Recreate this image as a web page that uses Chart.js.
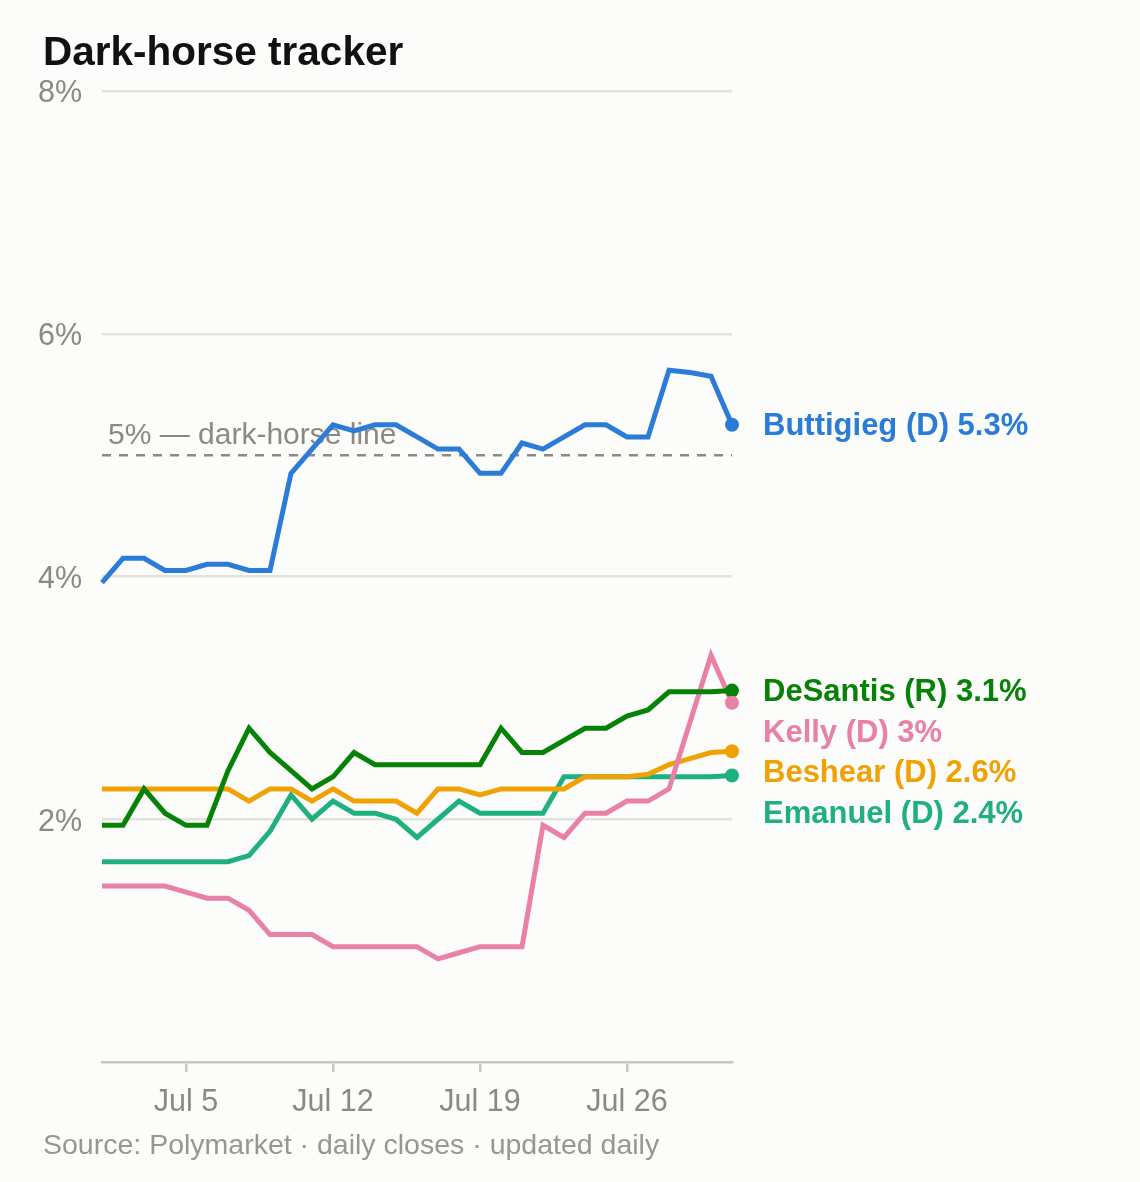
<!DOCTYPE html>
<html>
<head>
<meta charset="utf-8">
<script src="https://cdn.jsdelivr.net/npm/chart.js@4"></script>
<style>
  html, body { margin: 0; padding: 0; background: #fcfcfa; }
  #wrap { position: relative; width: 1140px; height: 1182px; }
  #title { position: absolute; left: 43px; top: 31px; font: bold 40.5px/40px "Liberation Sans", Arial, sans-serif; color: #111; margin: 0; }
  #source { position: absolute; left: 43px; top: 1130px; font: 28.5px/28px "Liberation Sans", Arial, sans-serif; color: #999590; }
  canvas { position: absolute; left: 0; top: 0; }
</style>
</head>
<body>
<div id="wrap">
  <canvas id="chart" width="1140" height="1182"></canvas>
  <h1 id="title">Dark-horse tracker</h1>
  <div id="source">Source: Polymarket · daily closes · updated daily</div>
</div>
<script>
// Tage im Juli (1..31)
const days = [1,2,3,4,5,6,7,8,9,10,11,12,13,14,15,16,17,18,19,20,21,22,23,24,25,26,27,28,29,30,31];
const tickDays = [5, 12, 19, 26];
const yTicks = [0, 2, 4, 6, 8];
const darkHorseLine = 5;

const buttigieg = [3.95,4.15,4.15,4.05,4.05,4.10,4.10,4.05,4.05,4.85,5.05,5.25,5.20,5.25,5.25,5.15,5.05,5.05,4.85,4.85,5.10,5.05,5.15,5.25,5.25,5.15,5.15,5.70,5.68,5.65,5.25];
const desantis  = [1.95,1.95,2.25,2.05,1.95,1.95,2.40,2.75,2.55,2.40,2.25,2.35,2.55,2.45,2.45,2.45,2.45,2.45,2.45,2.75,2.55,2.55,2.65,2.75,2.75,2.85,2.90,3.05,3.05,3.05,3.06];
const kelly     = [1.45,1.45,1.45,1.45,1.40,1.35,1.35,1.25,1.05,1.05,1.05,0.95,0.95,0.95,0.95,0.95,0.85,0.90,0.95,0.95,0.95,1.95,1.85,2.05,2.05,2.15,2.15,2.25,2.80,3.35,2.96];
const beshear   = [2.25,2.25,2.25,2.25,2.25,2.25,2.25,2.15,2.25,2.25,2.15,2.25,2.15,2.15,2.15,2.05,2.25,2.25,2.20,2.25,2.25,2.25,2.25,2.35,2.35,2.35,2.37,2.45,2.50,2.55,2.56];
const emanuel   = [1.65,1.65,1.65,1.65,1.65,1.65,1.65,1.70,1.90,2.20,2.00,2.15,2.05,2.05,2.00,1.85,2.00,2.15,2.05,2.05,2.05,2.05,2.35,2.35,2.35,2.35,2.35,2.35,2.35,2.35,2.36];

const seriesNames = ['Buttigieg (D)', 'DeSantis (R)', 'Kelly (D)', 'Beshear (D)', 'Emanuel (D)'];
const seriesValues = [buttigieg, desantis, kelly, beshear, emanuel];
const seriesColors = ['#2b7bd8', '#068306', '#e980a8', '#f0a204', '#1eb07e'];

const FONT = '"Liberation Sans", Arial, sans-serif';
const GREY = '#8c8884';

// Hilfslinie bei 5% + Beschriftung (unter den Linien)
const darkHorsePlugin = {
    id: 'darkHorse',
    beforeDatasetsDraw(chart) {
        const { ctx, chartArea, scales } = chart;
        const y = scales.y.getPixelForValue(darkHorseLine);
        ctx.save();
        ctx.strokeStyle = '#8a8a88';
        ctx.lineWidth = 2.5;
        ctx.setLineDash([9, 8]);
        ctx.beginPath();
        ctx.moveTo(chartArea.left, y);
        ctx.lineTo(chartArea.right, y);
        ctx.stroke();
        ctx.setLineDash([]);
        ctx.fillStyle = GREY;
        ctx.font = '30px ' + FONT;
        ctx.textBaseline = 'middle';
        ctx.textAlign = 'left';
        ctx.fillText(darkHorseLine + '% — dark-horse line', chartArea.left + 6, y - 19);
        ctx.restore();
    }
};

// Endpunkte + Namen rechts
const endLabelPlugin = {
    id: 'endLabels',
    afterDatasetsDraw(chart) {
        const { ctx } = chart;
        const items = chart.data.datasets.map((ds, i) => {
            const meta = chart.getDatasetMeta(i);
            const pt = meta.data[meta.data.length - 1];
            const vals = seriesValues[i];
            const v = vals[vals.length - 1];
            return { x: pt.x, y: pt.y, color: ds.borderColor, text: ds.label + ' ' + (Math.round(v * 10) / 10) + '%' };
        });
        ctx.save();
        items.forEach(it => {
            ctx.fillStyle = it.color;
            ctx.beginPath();
            ctx.arc(it.x, it.y, 7, 0, Math.PI * 2);
            ctx.fill();
        });
        const sorted = items.slice().sort((a, b) => a.y - b.y);
        let prev = -Infinity;
        ctx.font = 'bold 31px ' + FONT;
        ctx.textBaseline = 'middle';
        ctx.textAlign = 'left';
        sorted.forEach(it => {
            const ly = Math.max(it.y, prev + 40.5);
            prev = ly;
            ctx.fillStyle = it.color;
            ctx.fillText(it.text, it.x + 31, ly + 2);
        });
        ctx.restore();
    }
};

const ctx = document.getElementById('chart').getContext('2d');
new Chart(ctx, {
    type: 'line',
    data: {
        datasets: seriesNames.map((name, i) => ({
            label: name,
            data: days.map((d, j) => ({ x: d, y: seriesValues[i][j] })),
            borderColor: seriesColors[i],
            backgroundColor: seriesColors[i],
            borderWidth: 5,
            pointRadius: 0,
            tension: 0,
            borderJoinStyle: 'miter',
            clip: false
        }))
    },
    options: {
        responsive: false,
        animation: false,
        layout: { padding: { left: 0, right: 408, top: 91, bottom: 60 } },
        scales: {
            x: {
                type: 'linear',
                min: 1,
                max: 31,
                afterBuildTicks: axis => { axis.ticks = tickDays.map(v => ({ value: v })); },
                afterFit: s => { s.height = 60; },
                grid: { drawOnChartArea: false, drawTicks: true, tickLength: 10, color: '#c9c8c0', lineWidth: 2.5 },
                border: { color: '#c9c8c0', width: 2.5 },
                ticks: {
                    padding: 12,
                    color: GREY,
                    font: { family: FONT, size: 30.5 },
                    callback: v => 'Jul ' + v
                }
            },
            y: {
                min: 0,
                max: 8,
                afterBuildTicks: axis => { axis.ticks = yTicks.map(v => ({ value: v })); },
                afterFit: s => { s.width = 102; },
                border: { display: false },
                grid: {
                    drawTicks: false,
                    lineWidth: 2.5,
                    color: c => (c.tick && c.tick.value === 0) ? 'rgba(0,0,0,0)' : '#e3e2dd'
                },
                ticks: {
                    padding: 20,
                    labelOffset: 3,
                    color: GREY,
                    font: { family: FONT, size: 30.5 },
                    callback: v => v === 0 ? '' : v + '%'
                }
            }
        },
        plugins: {
            legend: { display: false },
            tooltip: { enabled: false }
        }
    },
    plugins: [darkHorsePlugin, endLabelPlugin]
});
</script>
</body>
</html>
